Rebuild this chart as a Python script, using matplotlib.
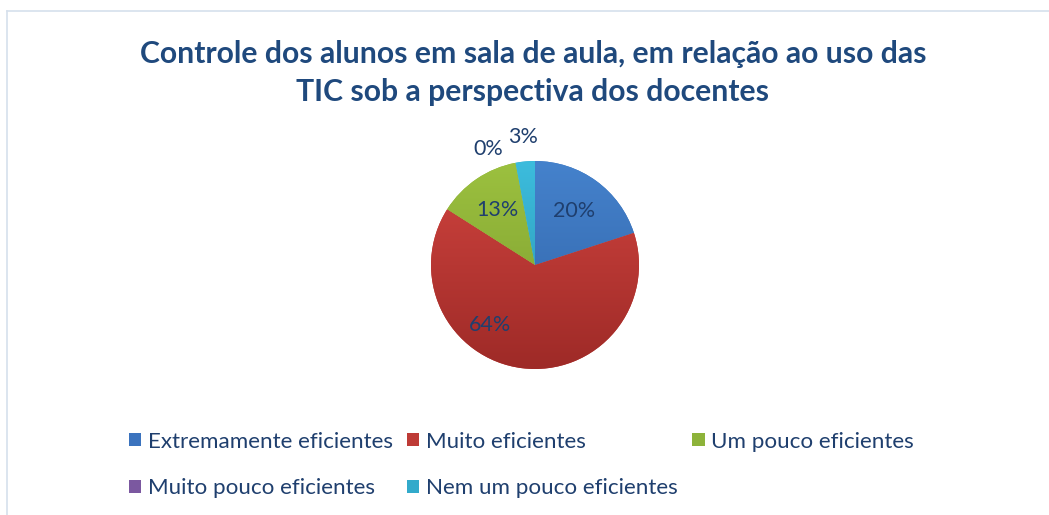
import numpy as np
import matplotlib
matplotlib.use('Agg')
import matplotlib.pyplot as plt
from matplotlib.lines import Line2D
from matplotlib.patches import Patch
from matplotlib.colors import LinearSegmentedColormap

categories = ['Extremamente eficientes', 'Muito eficientes', 'Um pouco eficientes',
              'Muito pouco eficientes', 'Nem um pouco eficientes']
values = [20, 64, 13, 0, 3]
labels = ['20%', '64%', '13%', '0%', '3%']

# light / dark shade per slice (Excel style gradient)
light = ['#4582CC', '#D0443F', '#9CC13F', '#8A65B0', '#3CBCDD']
dark = ['#2F62A6', '#9E2A27', '#7A9A2E', '#60407F', '#2A93AE']
mid = ['#3B73BE', '#BE3B36', '#8DB33A', '#7B58A0', '#32AACB']

title_color = '#1F497D'
text_color = '#1F3F6E'

plt.rcParams['font.family'] = ['Lato', 'DejaVu Sans']

W, H = 1049, 515
fig = plt.figure(figsize=(W / 100, H / 100), dpi=100)
# pie centre ~ (535, 265) px, radius ~104 px
R = 104
ax = fig.add_axes([(535 - 1.25 * R) / W, (H - 265 - 1.05 * R) / H, 2.5 * R / W, 2.5 * R / H])

wedges, _ = ax.pie(values, startangle=90, counterclock=False, radius=1.0,
                   colors=mid, wedgeprops=dict(linewidth=0))

# vertical gradient clipped to each wedge
for w, lc, dc in zip(wedges, light, dark):
    cmap = LinearSegmentedColormap.from_list('g', [dc, lc])
    grad = np.linspace(0, 1, 256).reshape(-1, 1)
    im = ax.imshow(grad, cmap=cmap, origin='lower', extent=(-1, 1, -1, 1),
                   aspect='auto', zorder=w.get_zorder())
    im.set_clip_path(w)

ax.set_aspect('equal')
ax.set_xlim(-1.25, 1.25)
ax.set_ylim(-1.05, 1.45)
ax.axis('off')

# percentage labels placed from wedge angles
for w, lab, v in zip(wedges, labels, values):
    ang = np.deg2rad((w.theta1 + w.theta2) / 2)
    if v < 5:
        r = 1.24
    elif v > 50:
        r = 0.72
    else:
        r = 0.64
    if v > 50:
        ang = np.deg2rad(w.theta1 + (w.theta2 - w.theta1) * 0.37)
    x, y = r * np.cos(ang), r * np.sin(ang)
    if v == 0:
        x -= 0.22
        y -= 0.1
    ax.text(x, y, lab, ha='center', va='center', fontsize=15.5, color=text_color, zorder=5)

fig.text(0.508, 1 - 73 / H, 'Controle dos alunos em sala de aula, em relação ao uso das\nTIC sob a perspectiva dos docentes',
         ha='center', va='center', fontsize=21.7, fontweight='bold', color=title_color,
         linespacing=1.47)

order = [0, 3, 1, 4, 2]
handles = [Patch(facecolor=mid[i], edgecolor='none') for i in order]
fig.legend(handles, [categories[i] for i in order], ncol=3, loc='center',
           bbox_to_anchor=(0.497, 1 - 465 / H), frameon=False, fontsize=16.1,
           handlelength=0.55, handleheight=0.55, handletextpad=0.3,
           columnspacing=0.65, labelspacing=1.2, labelcolor=text_color,
           borderpad=0)

# chart frame (top and left edges visible)
fig.add_artist(Line2D([7 / W, 1], [1 - 11 / H, 1 - 11 / H], color='#D6E0EC', lw=1.2))
fig.add_artist(Line2D([7 / W, 7 / W], [0, 1 - 11 / H], color='#D6E0EC', lw=1.2))

fig.savefig('out.png', dpi=100, facecolor='white')
